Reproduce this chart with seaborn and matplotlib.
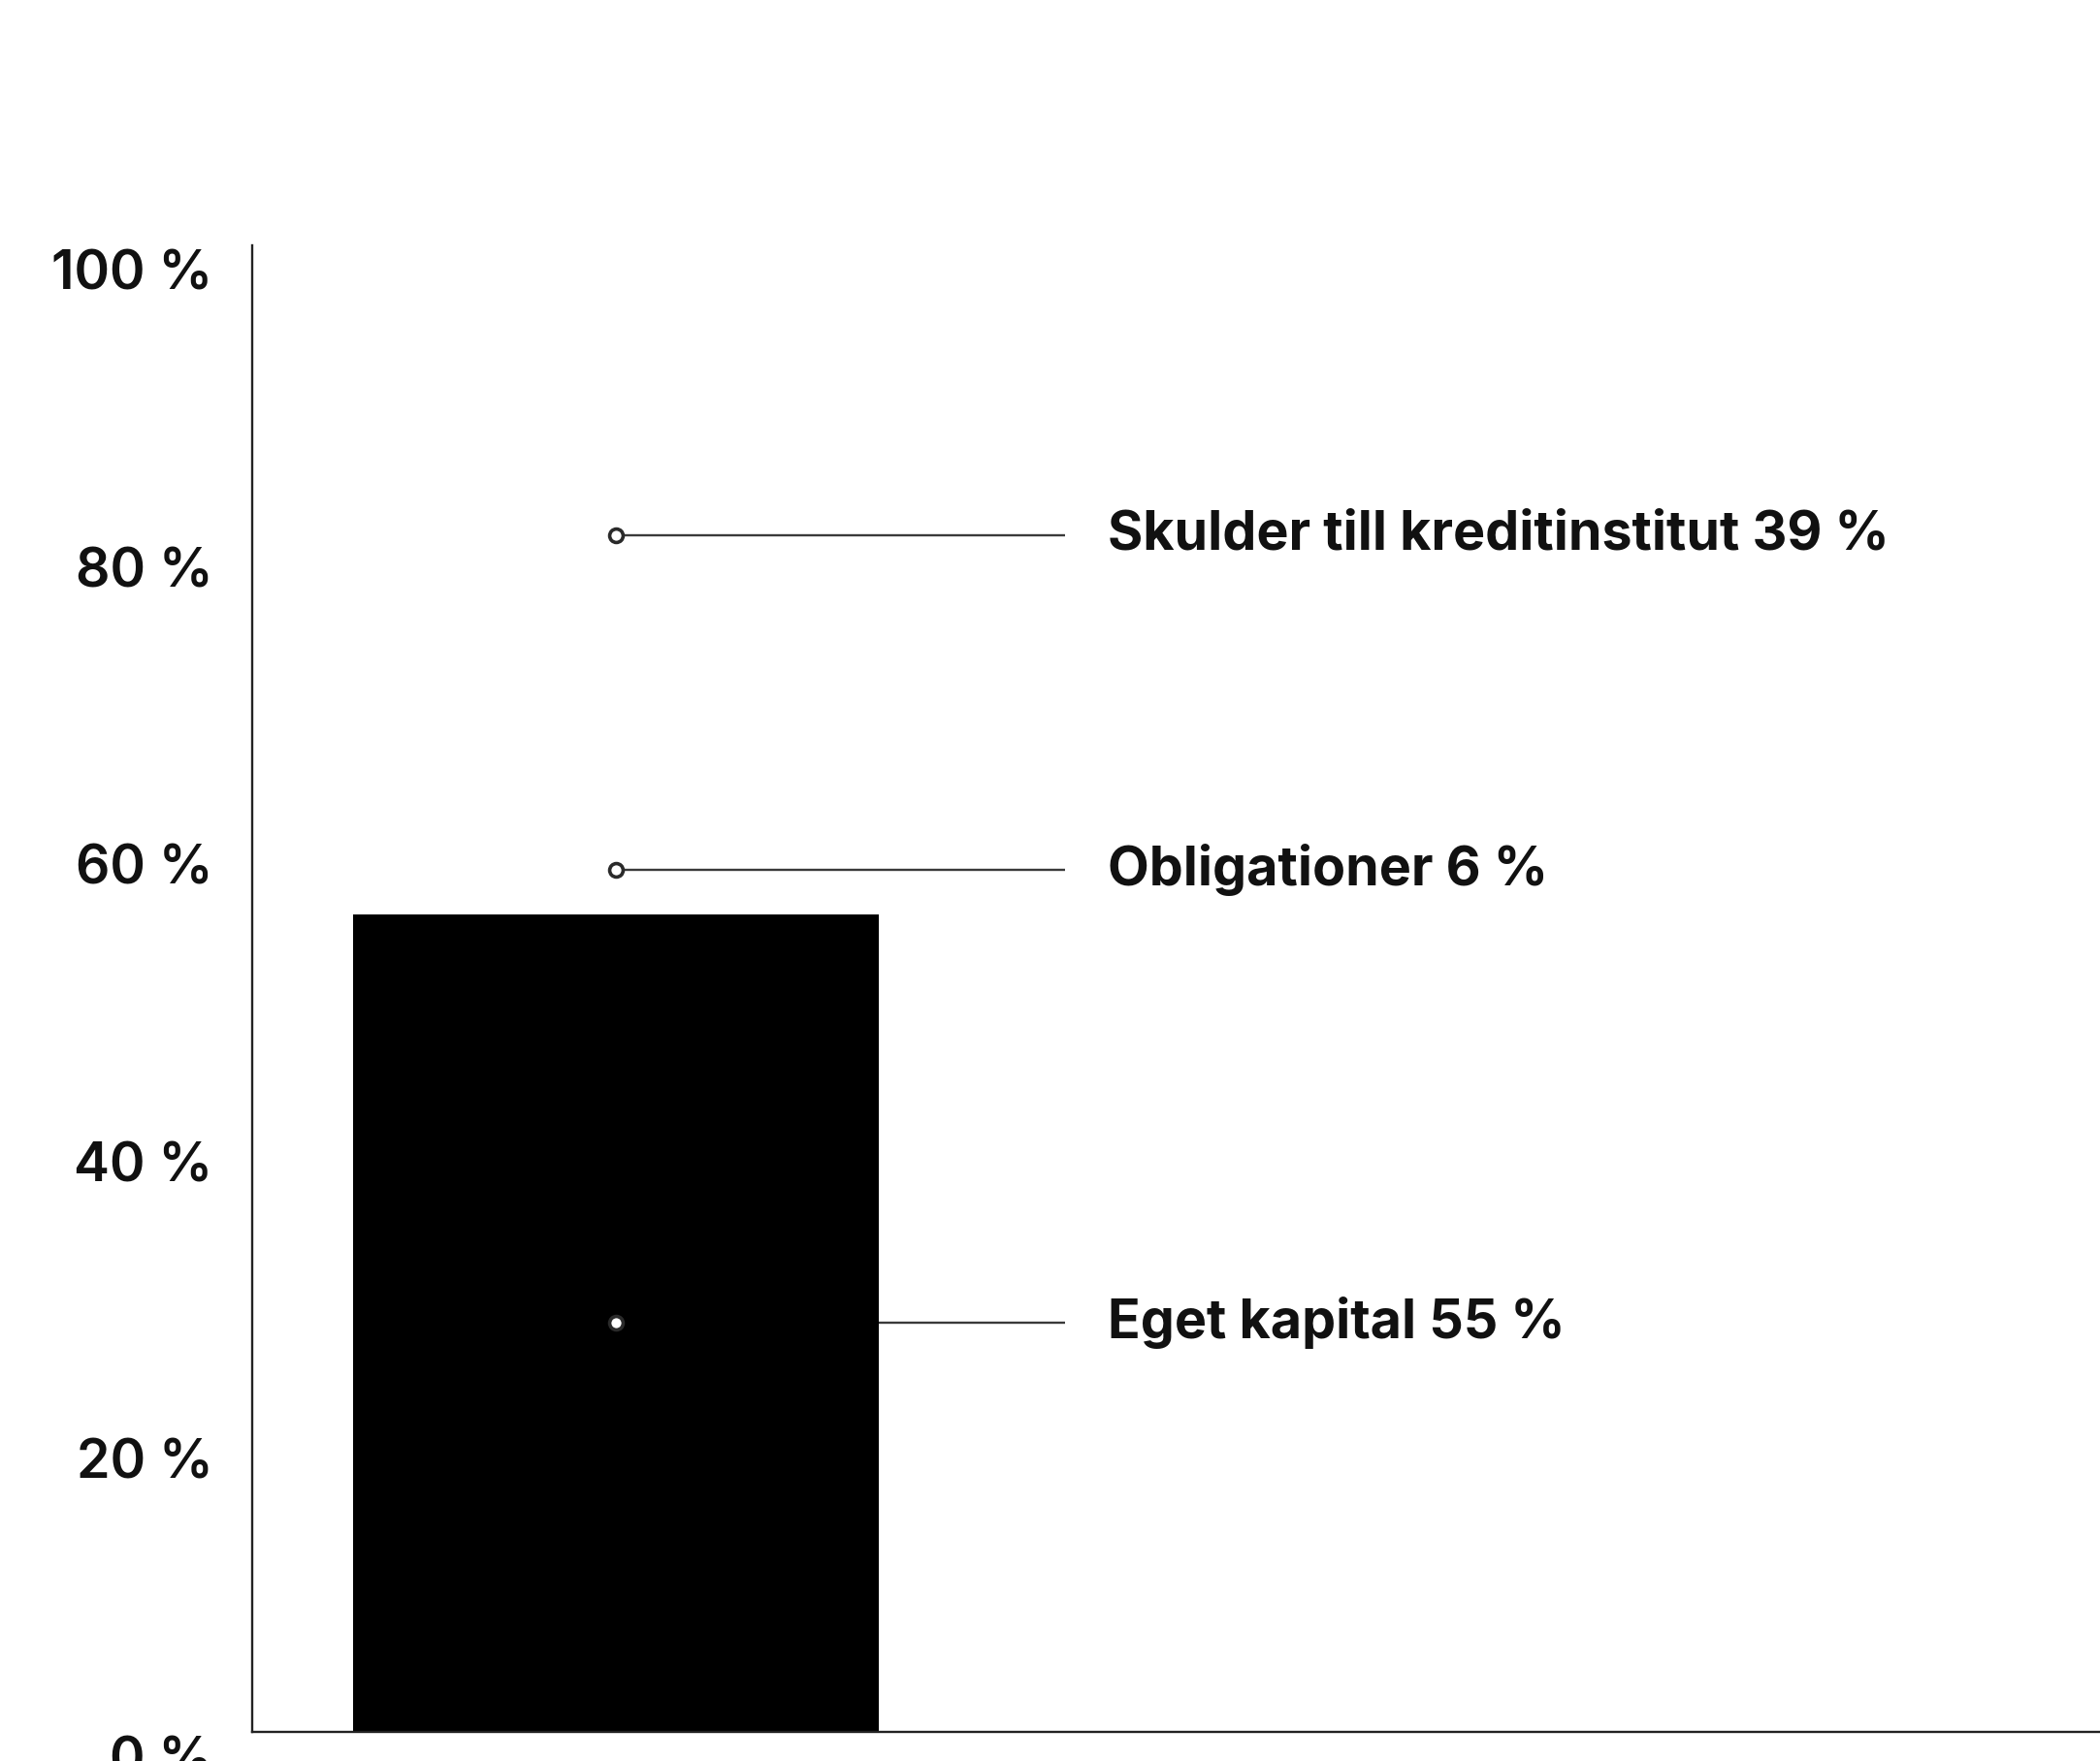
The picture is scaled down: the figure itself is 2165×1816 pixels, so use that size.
import matplotlib
matplotlib.use("Agg")
import matplotlib.pyplot as plt
import matplotlib.transforms as mtransforms
import seaborn as sns
import pandas as pd

# ---- data ----
categories = ["Eget kapital", "Obligationer", "Skulder till kreditinstitut"]
values = [55, 6, 39]
colors = ["#000000", "#ffffff", "#ffffff"]
ytick_values = [0, 20, 40, 60, 80, 100]
ytick_labels = ["0 %", "20 %", "40 %", "60 %", "80 %", "100 %"]

sns.set_theme(style="white")
plt.rcParams["font.family"] = ["Inter", "DejaVu Sans"]

fig = plt.figure(figsize=(21.65, 18.16), dpi=100)
ax = fig.add_axes([260 / 2165, 1 - 1786 / 1816, 1 - 260 / 2165, (1786 - 253) / 1816])

# cumulative tops for stacked look
tops = []
acc = 0
for v in values:
    acc += v
    tops.append(acc)

bar_label = ["Balans"]
# draw largest cumulative first so smaller overlays
for i in reversed(range(len(values))):
    df = pd.DataFrame({"x": bar_label, "y": [tops[i]]})
    sns.barplot(data=df, x="x", y="y", color=colors[i], saturation=1, width=0.8,
                ax=ax, zorder=2 if i == 0 else 0.5, linewidth=0)

# annotations
line_end = 0.683
text_x = 0.748
for i, (cat, v) in enumerate(zip(categories, values)):
    mid = tops[i] - v / 2
    ax.plot([0, line_end], [mid, mid], color="#3a3a3a", lw=1.7, zorder=1,
            solid_capstyle="butt")
    ax.plot([0], [mid], marker="o", ms=10, mfc="white", mec="#2a2a2a", mew=2.6,
            zorder=3, linestyle="none")
    ax.text(text_x, mid, f"{cat} {v} %", va="center", ha="left",
            fontsize=40, fontweight="bold", color="#111111")

ax.set_xlim(-0.553, 2.258)
ax.set_ylim(0, 100)
ax.set_yticks(ytick_values)
ax.set_yticklabels(ytick_labels, fontsize=40, fontweight="semibold", color="#111111")
ax.set_xticks([])
ax.set_xlabel("")
ax.set_ylabel("")
ax.tick_params(axis="y", length=0, pad=29)
offset = mtransforms.ScaledTranslation(0, -25 / 100, fig.dpi_scale_trans)
for lab in ax.get_yticklabels():
    lab.set_transform(lab.get_transform() + offset)

for s in ["top", "right"]:
    ax.spines[s].set_visible(False)
for s in ["left", "bottom"]:
    ax.spines[s].set_color("#222222")
    ax.spines[s].set_linewidth(1.7)
ax.grid(False)
ax.set_facecolor("white")
fig.patch.set_facecolor("white")

fig.savefig("out.png", dpi=100, facecolor="white")
